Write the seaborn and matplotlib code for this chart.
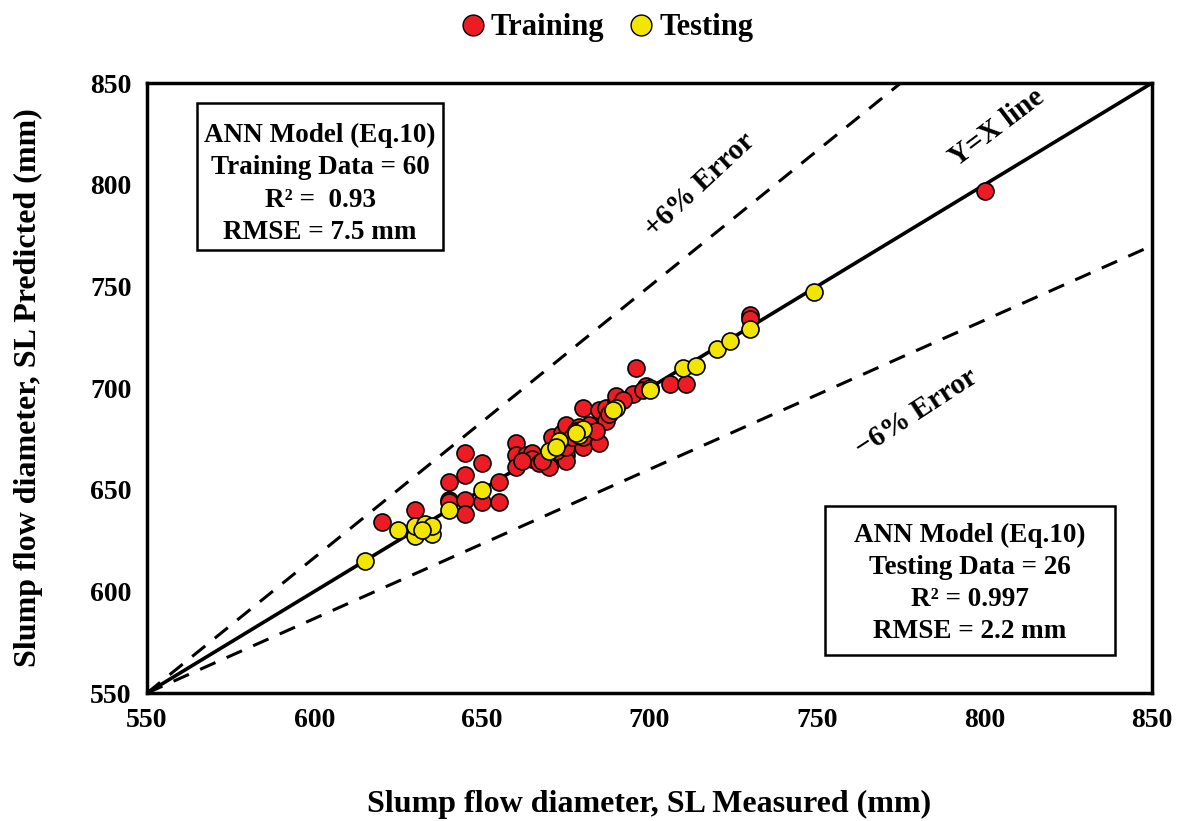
import numpy as np
import pandas as pd
import matplotlib
matplotlib.use("Agg")
import matplotlib.pyplot as plt
from matplotlib.patches import Rectangle
from matplotlib.lines import Line2D
import seaborn as sns

# Training set: measured vs predicted slump flow (mm)
train_measured = [620, 630, 640, 640, 640, 645, 645, 645, 645, 650,
                  650, 655, 655, 660, 660, 660, 663, 665, 665, 667,
                  670, 670, 670, 671, 674, 675, 675, 675, 677, 679,
                  680, 680, 685, 685, 686, 685, 687, 687, 690, 690,
                  695, 696, 699, 706, 711, 730, 730, 800, 668, 672,
                  675, 677, 678, 680, 682, 684, 688, 692, 662, 698]
train_predicted = [634, 640, 654, 645, 644, 668, 657, 645, 638, 663,
                   644, 654, 644, 673, 667, 661, 667, 668, 665, 663,
                   668, 662, 661, 676, 678, 682, 667, 664, 673, 681,
                   690, 671, 673, 683, 686, 689, 690, 684, 693, 696,
                   697, 710, 701, 702, 702, 736, 734, 797, 664, 669,
                   671, 676, 679, 676, 682, 679, 687, 694, 664, 699]

# Testing set
test_measured = [615, 625, 630, 630, 633, 635, 635, 640, 650, 670,
                 673, 679, 680, 690, 700, 710, 714, 720, 724, 730,
                 749, 632, 672, 678, 689, 700]
test_predicted = [615, 630, 627, 632, 633, 628, 632, 640, 650, 669,
                  674, 677, 680, 690, 700, 710, 711, 719, 723, 729,
                  747, 630, 671, 678, 689, 699]

# Reference lines (start / end points)
line_x = [550, 850]
upper_err_x = [550, 775]
upper_err_y = [550, 850]
lower_err_x = [550, 850]
lower_err_y = [550, 770]

axis_ticks = [550, 600, 650, 700, 750, 800, 850]

train_df = pd.DataFrame({"measured": train_measured, "predicted": train_predicted})
test_df = pd.DataFrame({"measured": test_measured, "predicted": test_predicted})

sns.set_style("white")
plt.rcParams["font.family"] = ["Liberation Serif", "DejaVu Serif"]
plt.rcParams["font.weight"] = "bold"
plt.rcParams["text.color"] = "black"
plt.rcParams["axes.labelcolor"] = "black"
plt.rcParams["xtick.color"] = "black"
plt.rcParams["ytick.color"] = "black"

fig = plt.figure(figsize=(11.84, 8.21), dpi=100)
ax = fig.add_axes([0.1242, 0.1559, 0.8488, 0.743])

ax.plot(line_x, line_x, color="black", lw=2.6, zorder=1)
ax.plot(upper_err_x, upper_err_y, color="black", lw=2.2, ls=(0, (5.5, 4)), zorder=1)
ax.plot(lower_err_x, lower_err_y, color="black", lw=2.2, ls=(0, (5.5, 4)), zorder=1)

red = "#ED1C24"
yellow = "#F2E600"
sns.scatterplot(data=train_df, x="measured", y="predicted", ax=ax, color=red,
                edgecolor="black", linewidth=1.2, s=150, zorder=3, legend=False)
sns.scatterplot(data=test_df, x="measured", y="predicted", ax=ax, color=yellow,
                edgecolor="black", linewidth=1.2, s=150, zorder=4, legend=False)

ax.set_xlim(550, 850)
ax.set_ylim(550, 850)
ax.set_xticks(axis_ticks)
ax.set_yticks(axis_ticks)
ax.tick_params(direction="in", length=7, width=2, labelsize=20, pad=11)
for lbl in ax.get_xticklabels() + ax.get_yticklabels():
    lbl.set_fontweight("bold")
for sp in ax.spines.values():
    sp.set_visible(True)
    sp.set_color("black")
    sp.set_linewidth(2.5)

ax.set_xlabel("Slump flow diameter, SL Measured (mm)", fontsize=23,
              fontweight="bold", labelpad=41)
ax.set_ylabel("Slump flow diameter, SL Predicted (mm)", fontsize=23,
              fontweight="bold", labelpad=34)

# Line annotations
ax.text(803.7, 828, "Y=X line", rotation=37, ha="center", va="center",
        fontsize=21, fontweight="bold")
ax.text(715, 800, "+6% Error", rotation=43, ha="center", va="center",
        fontsize=21, fontweight="bold")
ax.text(779.6, 688, "\u22126% Error", rotation=33, ha="center", va="center",
        fontsize=21, fontweight="bold")

# Statistics boxes
def stat_box(x0, y0, x1, y1, lines, dy):
    ax.add_patch(Rectangle((x0, y0), x1 - x0, y1 - y0, transform=ax.transAxes,
                           fill=True, facecolor="white", edgecolor="black",
                           lw=1.8, zorder=5))
    ax.text((x0 + x1) / 2, (y0 + y1) / 2 + dy, "\n".join(lines), transform=ax.transAxes,
            ha="center", va="center", multialignment="center", fontsize=19.5,
            fontweight="bold", linespacing=1.38, zorder=6)

stat_box(0.0498, 0.726, 0.2945, 0.967,
         ["ANN Model (Eq.10)", "Training Data = 60", "R\u00b2 =  0.93", "RMSE = 7.5 mm"],
         -0.012)
stat_box(0.6746, 0.0623, 0.963, 0.3066,
         ["ANN Model (Eq.10)", "Testing Data = 26", "R\u00b2 = 0.997", "RMSE = 2.2 mm"],
         -0.005)

handles = [
    Line2D([], [], ls="", marker="o", markersize=15, markerfacecolor=red,
           markeredgecolor="black", markeredgewidth=1.0, label="Training"),
    Line2D([], [], ls="", marker="o", markersize=15, markerfacecolor=yellow,
           markeredgecolor="black", markeredgewidth=1.0, label="Testing"),
]
fig.legend(handles=handles, loc="center", bbox_to_anchor=(0.51, 0.966), ncol=2,
           frameon=False, handletextpad=0.0, columnspacing=0.6, handlelength=1.2,
           prop={"size": 22, "weight": "bold"})

fig.savefig("out.png", dpi=100)
